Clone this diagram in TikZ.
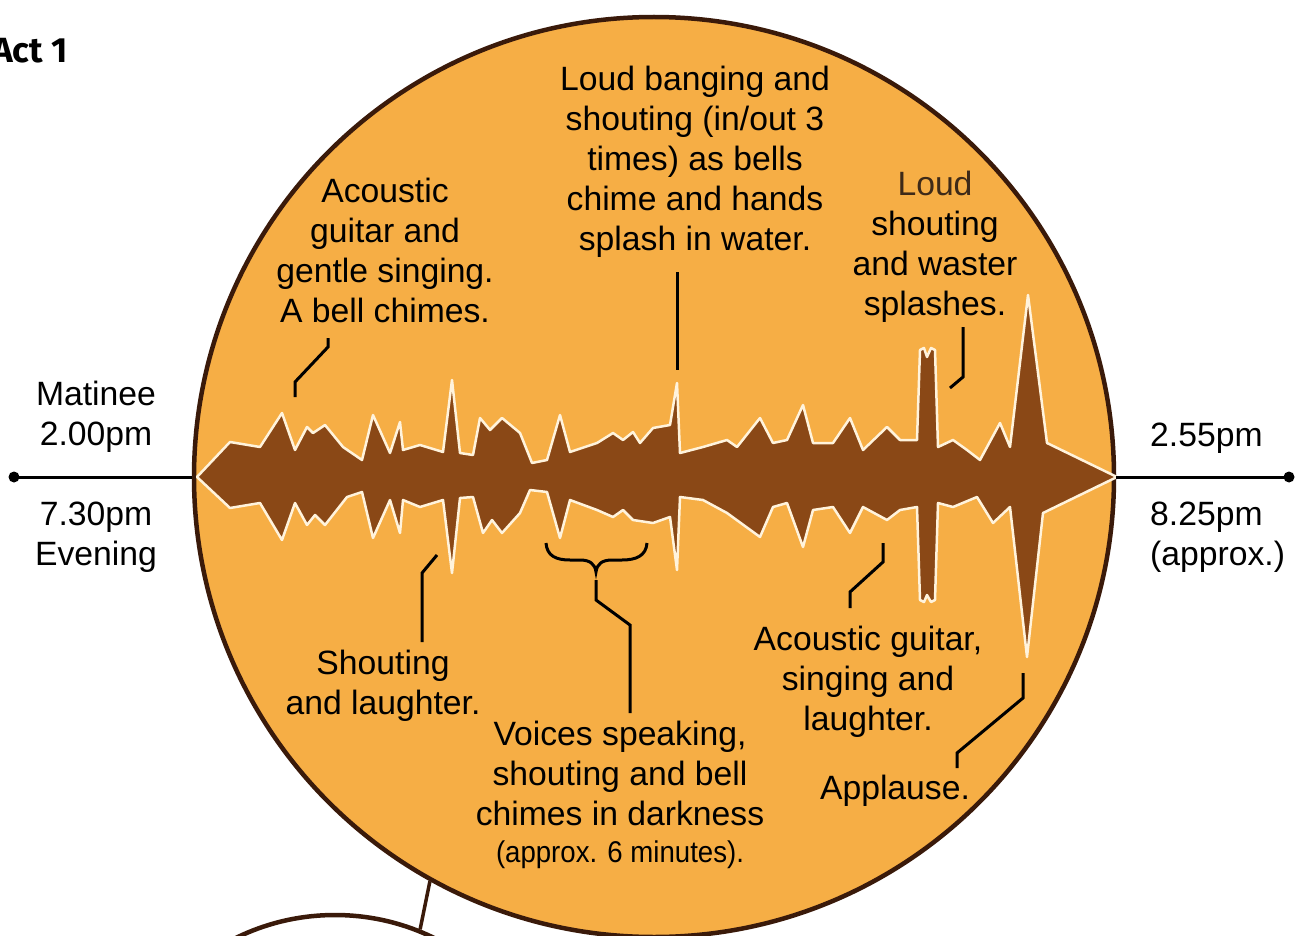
\documentclass[tikz,border=0pt]{standalone}
\usepackage{fontspec}
\setmainfont{Liberation Sans}
\newfontfamily\actfont{Fira Sans}
\newfontfamily\narrowfont[FakeStretch=0.92]{Liberation Sans}
\definecolor{discfill}{HTML}{F6AE45}
\definecolor{discrim}{HTML}{3A1A0A}
\definecolor{wavebrown}{HTML}{8A4816}
\definecolor{wavecream}{HTML}{FFF3DC}
\definecolor{loudbrown}{HTML}{3E2A18}

\begin{document}
\begin{tikzpicture}[x=1pt,y=-1pt,
    note/.style={align=center,inner sep=0,font=\fontsize{33.7}{40}\selectfont},
    pointer/.style={line width=3pt},
    wave/.style={fill=wavebrown,draw=wavecream,line width=2.5pt,line join=round},
    disc/.style={circle,draw=discrim,line width=4.5pt,inner sep=0}]
  \useasboundingbox (0,0) rectangle (1298,936);

  % discs
  \node[disc,fill=discfill,minimum size=920pt] (disc) at (654,477) {};
  \node[disc,fill=white,minimum size=450pt] (scene) at (335,1140) {};
  \draw[line width=3.5pt,discrim] (disc.241.7) -- (scene.68.3);

  % sound wave
  \draw[wave] plot coordinates {(197,477) (230,442) (260,447) (282,413) (295,450) (307,427) (313,433) (325,425)
    (343,447) (362,460) (373,415) (390,453) (400,422) (403,450) (420,445) (443,452) (452,380) (460,453)
    (473,455) (480,418) (490,430) (502,418) (520,433) (532,463) (547,460) (560,415) (570,452) (597,443)
    (613,433) (623,440) (633,432) (640,443) (653,428) (670,425) (677,383) (680,453) (703,447) (727,440)
    (737,447) (760,418) (773,443) (787,440) (803,405) (813,443) (833,443) (850,418) (863,450) (887,427)
    (900,440) (917,440) (920,350) (924,348) (927,357) (931,348) (935,350) (938,447) (953,440) (967,450)
    (980,460) (1000,423) (1010,447) (1028,295) (1047,443) (1117,477)
    (1043,513) (1027,657) (1010,507) (993,523) (977,497) (953,507) (938,503) (935,600) (931,602) (927,595)
    (924,602) (920,600) (917,507) (900,510) (887,520) (863,507) (850,533) (833,507) (813,510) (803,547)
    (787,503) (773,507) (760,537) (727,513) (703,500) (680,497) (677,570) (670,517) (653,523) (633,520)
    (623,510) (613,517) (597,510) (570,500) (560,538) (547,492) (530,490) (520,513) (502,533) (492,520)
    (483,533) (473,497) (460,498) (452,573) (443,500) (420,507) (403,500) (400,533) (390,500) (373,538)
    (362,492) (347,497) (325,525) (315,515) (307,525) (295,503) (282,540) (260,503) (230,508)} -- cycle;

  % time line
  \coordinate (start) at (14,477);
  \coordinate (finish) at (1289,477);
  \draw[line width=3pt] (start) -- (disc.west);
  \draw[line width=3pt] (disc.east) -- (finish);
  \fill (start) circle (5.5);
  \fill (finish) circle (5.5);

  % pointers
  \coordinate (guitar-end) at (328,338);
  \coordinate (bang-end) at (677,272);
  \coordinate (splash-end) at (963,327);
  \coordinate (laugh-end) at (437,555);
  \coordinate (acoustic-end) at (883,543);
  \coordinate (applause-end) at (1023,673);
  \coordinate (brace-l) at (546,543);
  \coordinate (brace-r) at (647,543);
  \coordinate (brace-tip) at (596,572);
  \draw[pointer] (guitar-end) -- ++(0,9) -- ++(-33,35) -- ++(0,15);
  \draw[pointer] (bang-end) -- ++(0,98);
  \draw[pointer] (splash-end) -- ++(0,50) -- ++(-13,11);
  \draw[pointer] (laugh-end) -- ++(-15,18) -- ++(0,69);
  \draw[pointer] (acoustic-end) -- ++(0,19) -- ++(-33,30) -- ++(0,16);
  \draw[pointer] (applause-end) -- ++(0,25) -- ++(-66,55) -- ++(0,15);
  \draw[pointer] (brace-l) .. controls (547,556) and (556,560) .. (570,560) -- (580,560)
    .. controls (590,560) and (595,564) .. (brace-tip)
    .. controls (597,564) and (602,560) .. (612,560) -- (622,560)
    .. controls (636,560) and (646,556) .. (brace-r);
  \draw[pointer] (brace-tip) ++(0,8) -- ++(0,20) -- ++(34,25) -- ++(0,88);

  % texts
  \node[font=\actfont\bfseries\fontsize{35}{40}\selectfont,inner sep=0,anchor=base east] (act) at (68,63) {Act 1};
  \node[note] (matinee) at (96,417) {Matinee\\2.00pm};
  \node[note] (evening) at (96,537) {7.30pm\\Evening};
  \node[note,anchor=base west] (end-mat) at (1150,446) {2.55pm};
  \node[note,align=left,anchor=west] (end-eve) at (1150,537) {8.25pm\\(approx.)};
  \node[note] (guitar) at (385,250) {Acoustic\\guitar and\\gentle singing.\\A bell chimes.};
  \node[note] (bang) at (695,162) {Loud banging and\\shouting (in/out 3\\times) as bells\\chime and hands\\splash in water.};
  \node[note] (splash) at (935,247) {{\color{loudbrown}Loud}\\shouting\\and waster\\splashes.};
  \node[note] (laugh) at (383,686) {Shouting\\and laughter.};
  \node[note] (voices) at (620,795) {Voices speaking,\\shouting and bell\\chimes in darkness\\[-3pt]{\narrowfont\fontsize{30}{40}\selectfont(approx. 6 minutes).}};
  \node[note] (acoustic) at (868,682) {Acoustic guitar,\\singing and\\laughter.};
  \node[note] (applause) at (895,791) {Applause.};
\end{tikzpicture}
\end{document}
